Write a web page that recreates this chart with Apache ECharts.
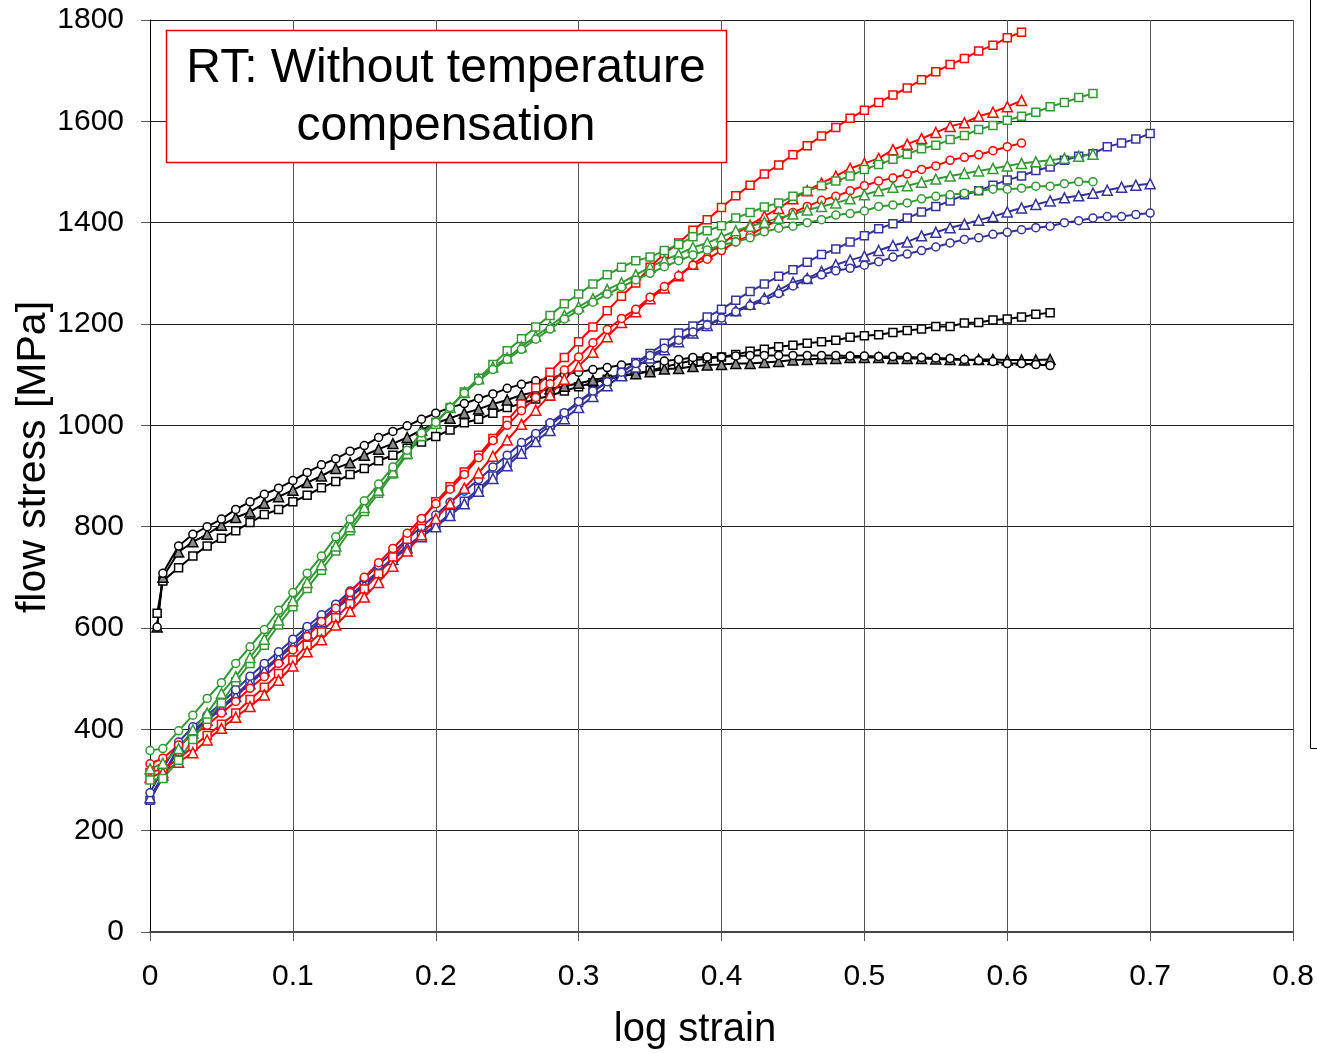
<!DOCTYPE html>
<html>
<head>
<meta charset="utf-8">
<script src="https://cdn.jsdelivr.net/npm/echarts@6/dist/echarts.min.js"></script>
<style>
html,body{margin:0;padding:0;background:#fff;}
#chart{width:1317px;height:1053px;}
</style>
</head>
<body>
<div id="chart"></div>
<script>
// ---- data (log strain, flow stress in MPa) ----
var strainBlack = [0.005,0.009,0.02,0.03,0.04,0.05,0.06,0.07,0.08,0.09,0.10,0.11,0.12,0.13,0.14,0.15,0.16,0.17,0.18,0.19,0.20,0.21,0.22,0.23,0.24,0.25,0.26,0.27,0.28,0.29,0.30,0.31,0.32,0.33,0.34,0.35,0.36,0.37,0.38,0.39,0.40,0.41,0.42,0.43,0.44,0.45,0.46,0.47,0.48,0.49,0.50,0.51,0.52,0.53,0.54,0.55,0.56,0.57,0.58,0.59,0.60,0.61,0.62,0.63];
var strainColor = [0,0.009,0.02,0.03,0.04,0.05,0.06,0.07,0.08,0.09,0.10,0.11,0.12,0.13,0.14,0.15,0.16,0.17,0.18,0.19,0.20,0.21,0.22,0.23,0.24,0.25,0.26,0.27,0.28,0.29,0.30,0.31,0.32,0.33,0.34,0.35,0.36,0.37,0.38,0.39,0.40,0.41,0.42,0.43,0.44,0.45,0.46,0.47,0.48,0.49,0.50,0.51,0.52,0.53,0.54,0.55,0.56,0.57,0.58,0.59,0.60,0.61,0.62,0.63,0.64,0.65,0.66,0.67,0.68,0.69,0.70];

var blackCircle = [602,708,762,785,800,815,834,849,864,876,891,907,922,934,949,960,976,988,999,1012,1024,1035,1043,1053,1062,1073,1081,1088,1093,1101,1105,1110,1114,1119,1122,1124,1127,1130,1134,1135,1135,1137,1138,1138,1138,1138,1138,1138,1138,1137,1137,1136,1136,1135,1134,1133,1132,1130,1128,1126,1122,1122,1120,1118];
var blackTriangle = [602,700,750,770,785,803,818,829,846,859,872,887,900,915,926,941,953,964,976,991,1004,1014,1024,1032,1042,1050,1060,1066,1072,1077,1083,1089,1095,1099,1102,1106,1111,1112,1116,1119,1120,1122,1122,1124,1126,1129,1130,1132,1132,1134,1134,1134,1132,1132,1132,1131,1130,1129,1130,1130,1129,1129,1129,1130];
var blackSquare = [629,693,719,742,762,777,792,808,824,834,849,862,877,889,903,915,930,941,955,967,978,991,1005,1012,1024,1035,1043,1052,1058,1068,1076,1084,1091,1097,1102,1108,1115,1122,1128,1132,1135,1140,1146,1150,1155,1158,1162,1165,1168,1174,1177,1179,1183,1187,1190,1195,1195,1202,1203,1208,1210,1214,1219,1222];

var redCircle = [332,343,369,388,408,432,455,481,504,530,557,583,613,639,670,700,729,757,787,816,845,874,903,936,970,1000,1029,1055,1082,1109,1135,1163,1189,1211,1229,1253,1274,1295,1316,1328,1345,1362,1375,1392,1405,1420,1432,1444,1452,1463,1473,1482,1488,1496,1505,1512,1523,1529,1534,1542,1550,1557];
var redTriangle = [305,315,335,354,379,402,424,445,468,497,525,553,577,606,633,661,690,722,752,784,816,846,876,906,939,971,1002,1030,1060,1091,1117,1144,1175,1203,1224,1250,1271,1295,1318,1338,1358,1378,1395,1413,1428,1447,1463,1478,1492,1507,1517,1527,1544,1555,1566,1578,1590,1597,1610,1618,1629,1641];
var redSquare = [315,322,341,366,388,410,432,459,483,510,537,566,592,620,648,677,707,740,775,812,849,879,908,941,974,1009,1042,1074,1105,1134,1165,1194,1226,1255,1281,1312,1339,1360,1385,1406,1430,1453,1474,1496,1514,1534,1552,1571,1588,1606,1622,1637,1652,1666,1682,1698,1712,1724,1739,1750,1765,1776];

var greenCircle = [358,362,397,428,461,492,530,563,597,635,670,708,742,780,815,851,884,918,951,985,1006,1035,1064,1088,1110,1130,1150,1170,1190,1210,1227,1243,1259,1273,1287,1300,1313,1325,1336,1346,1356,1362,1370,1382,1389,1393,1400,1406,1415,1418,1423,1432,1435,1439,1447,1452,1455,1458,1463,1466,1466,1468,1472,1472,1477,1481,1481];
var greenTriangle = [322,333,362,399,432,471,504,542,578,616,654,690,725,762,800,838,872,908,945,980,1004,1035,1065,1092,1115,1133,1155,1176,1196,1217,1234,1250,1268,1281,1297,1312,1326,1338,1351,1360,1372,1384,1393,1401,1409,1417,1425,1432,1439,1447,1455,1463,1470,1473,1480,1486,1492,1497,1502,1507,1512,1517,1520,1523,1527,1531,1535];
var greenSquare = [300,303,339,380,420,452,494,530,566,606,642,678,714,752,792,830,866,904,942,978,1006,1035,1066,1093,1120,1147,1171,1194,1217,1240,1259,1279,1297,1312,1325,1332,1345,1357,1372,1384,1394,1409,1420,1431,1439,1452,1462,1473,1482,1492,1505,1515,1525,1535,1546,1553,1564,1572,1584,1592,1602,1610,1618,1629,1637,1647,1655];

var blueCircle = [275,322,375,405,428,452,478,505,530,553,578,603,626,647,673,698,724,750,775,800,823,848,870,893,918,941,966,984,1005,1025,1047,1068,1086,1105,1122,1138,1152,1168,1184,1198,1212,1224,1236,1247,1260,1275,1288,1297,1305,1310,1316,1323,1332,1338,1345,1352,1360,1367,1370,1377,1381,1386,1390,1393,1400,1404,1409,1412,1412,1416,1419];
var blueTriangle = [265,310,365,393,418,440,465,490,515,540,565,590,613,637,660,684,710,735,758,780,800,822,845,870,895,920,945,968,990,1013,1035,1057,1078,1098,1115,1133,1149,1165,1182,1197,1210,1226,1239,1251,1267,1282,1290,1304,1317,1326,1334,1345,1355,1362,1374,1381,1390,1397,1405,1412,1421,1429,1436,1443,1449,1453,1458,1464,1470,1474,1477];
var blueSquare = [260,305,362,396,421,444,469,494,519,544,570,595,618,641,664,688,713,738,762,783,802,826,850,875,900,926,952,977,1000,1022,1045,1066,1086,1105,1124,1142,1162,1182,1196,1214,1229,1247,1264,1279,1294,1307,1322,1337,1348,1362,1374,1388,1398,1409,1421,1432,1443,1455,1463,1474,1484,1492,1503,1510,1523,1531,1536,1550,1557,1565,1576];

var xTicks = [0,0.1,0.2,0.3,0.4,0.5,0.6,0.7,0.8];
var yTicks = [0,200,400,600,800,1000,1200,1400,1600,1800];
var titleLines = ['RT: Without temperature','compensation'];

// ---- build ----
function pairs(xs, ys){ var out=[]; for(var i=0;i<ys.length;i++){ out.push([xs[i], ys[i]]); } return out; }

var BLACK='#000000', RED='#ff0000', GREEN='#339933', BLUE='#333399';
var FONT='Liberation Sans, Arial, sans-serif';

function mk(name, xs, ys, color, symbol, fill){
  var size = symbol==='triangle' ? 10 : 8;
  return {
    name:name, type:'line', data:pairs(xs,ys),
    symbol:symbol, symbolSize:size, showAllSymbol:true,
    lineStyle:{color:color, width:2},
    itemStyle:{color:fill||'#ffffff', borderColor:color, borderWidth:1.5},
    emphasis:{disabled:true}, animation:false, z:3
  };
}

var series = [
  mk('black square', strainBlack, blackSquare, BLACK, 'rect'),
  mk('black triangle', strainBlack, blackTriangle, BLACK, 'triangle', '#8c8c8c'),
  mk('black circle', strainBlack, blackCircle, BLACK, 'circle'),
  mk('blue square', strainColor, blueSquare, BLUE, 'rect'),
  mk('blue triangle', strainColor, blueTriangle, BLUE, 'triangle'),
  mk('blue circle', strainColor, blueCircle, BLUE, 'circle'),
  mk('red square', strainColor, redSquare, RED, 'rect'),
  mk('red triangle', strainColor, redTriangle, RED, 'triangle'),
  mk('red circle', strainColor, redCircle, RED, 'circle'),
  mk('green square', strainColor, greenSquare, GREEN, 'rect'),
  mk('green triangle', strainColor, greenTriangle, GREEN, 'triangle'),
  mk('green circle', strainColor, greenCircle, GREEN, 'circle')
];

var chart = echarts.init(document.getElementById('chart'), null, {renderer:'canvas'});
chart.setOption({
  animation:false,
  backgroundColor:'#ffffff',
  grid:{left:150, right:24, top:20, bottom:121, containLabel:false},
  xAxis:{
    type:'value', min:xTicks[0], max:xTicks[xTicks.length-1], interval:0.1,
    axisLine:{show:true, onZero:false, lineStyle:{color:'#444', width:2}},
    axisTick:{show:true, length:9, lineStyle:{color:'#555', width:1}},
    axisLabel:{color:'#000', fontSize:30, fontFamily:FONT, margin:30,
      formatter:function(v){ return String(Math.round(v*10)/10); }},
    splitLine:{show:true, lineStyle:{color:'#555', width:1}}
  },
  yAxis:{
    type:'value', min:yTicks[0], max:yTicks[yTicks.length-1], interval:200,
    axisLine:{show:true, onZero:false, lineStyle:{color:'#000', width:1}},
    axisTick:{show:true, length:9, lineStyle:{color:'#555', width:1}},
    axisLabel:{color:'#000', fontSize:30, fontFamily:FONT, margin:26,
      formatter:function(v){ return String(v); }},
    splitLine:{show:true, lineStyle:{color:'#222', width:1}}
  },
  series:series,
  graphic:[
    {type:'rect', shape:{x:166.5, y:30.5, width:560, height:132}, style:{fill:'#fff', stroke:'#e00000', lineWidth:1.5}, z:10},
    {type:'text', x:446, y:69, style:{text:titleLines[0], font:'48px '+FONT, fill:'#000', textAlign:'center', textVerticalAlign:'middle'}, z:11},
    {type:'text', x:446, y:127, style:{text:titleLines[1], font:'48px '+FONT, fill:'#000', textAlign:'center', textVerticalAlign:'middle'}, z:11},
    {type:'text', x:695, y:1030, style:{text:'log strain', font:'40px '+FONT, fill:'#000', textAlign:'center', textVerticalAlign:'middle'}},
    {type:'text', x:34, y:457, rotation:Math.PI/2, style:{text:'flow stress [MPa]', font:'41px '+FONT, fill:'#000', textAlign:'center', textVerticalAlign:'middle'}},
    {type:'line', shape:{x1:1310.5, y1:0, x2:1310.5, y2:748.5}, style:{stroke:'#000', lineWidth:1}},
    {type:'line', shape:{x1:1310.5, y1:748.5, x2:1317, y2:748.5}, style:{stroke:'#000', lineWidth:1}}
  ]
});
</script>
</body>
</html>
